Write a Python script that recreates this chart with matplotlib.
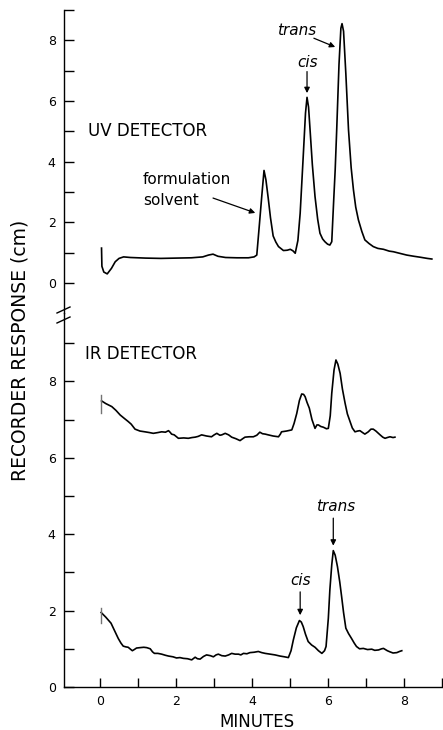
import numpy as np
import matplotlib
matplotlib.use('Agg')
import matplotlib.pyplot as plt
from matplotlib.lines import Line2D

# ---- data ------------------------------------------------------------------

# UV detector trace (upper panel)
uv_t = [0.04, 0.05, 0.10, 0.19, 0.30, 0.40, 0.50, 0.62, 0.80, 1.20, 1.60, 2.00,
        2.40, 2.70, 2.85, 2.97, 3.10, 3.30, 3.60, 3.90, 4.05, 4.12, 4.19, 4.25,
        4.31, 4.36, 4.42, 4.48, 4.55, 4.62, 4.69, 4.82, 4.92, 5.00, 5.07, 5.13,
        5.20, 5.26, 5.34, 5.40, 5.44, 5.48, 5.52, 5.58, 5.65, 5.72, 5.78, 5.85,
        5.91, 5.98, 6.04, 6.09, 6.14, 6.18, 6.22, 6.28, 6.33, 6.36, 6.40, 6.46,
        6.53, 6.60, 6.66, 6.72, 6.79, 6.88, 6.96, 7.07, 7.18, 7.30, 7.45, 7.60,
        7.71, 7.90, 8.06, 8.25, 8.41, 8.60, 8.72]
uv_r = [1.15, 0.55, 0.36, 0.30, 0.48, 0.70, 0.81, 0.86, 0.84, 0.82, 0.81, 0.82,
        0.83, 0.86, 0.92, 0.95, 0.88, 0.84, 0.83, 0.83, 0.86, 0.92, 1.95, 2.85,
        3.71, 3.40, 2.80, 2.15, 1.55, 1.35, 1.20, 1.07, 1.08, 1.11, 1.06, 0.98,
        1.40, 2.30, 4.17, 5.60, 6.12, 5.80, 5.05, 3.90, 2.85, 2.10, 1.64, 1.45,
        1.36, 1.28, 1.25, 1.36, 2.70, 3.73, 5.05, 7.20, 8.40, 8.55, 8.30, 6.90,
        5.05, 3.80, 3.07, 2.50, 2.08, 1.70, 1.42, 1.30, 1.20, 1.14, 1.11, 1.05,
        1.03, 0.97, 0.92, 0.88, 0.85, 0.81, 0.79]

# IR detector trace (lower panel, offset chart)
ir_t = [0.04, 0.15, 0.31, 0.42, 0.53, 0.64, 0.74, 0.82, 0.92, 1.05, 1.18, 1.30,
        1.40, 1.52, 1.62, 1.72, 1.80, 1.85, 1.88, 1.95, 2.06, 2.20, 2.32, 2.42,
        2.50, 2.58, 2.67, 2.80, 2.93, 3.00, 3.07, 3.15, 3.20, 3.29, 3.38, 3.46,
        3.57, 3.68, 3.75, 3.81, 3.92, 4.03, 4.12, 4.20, 4.27, 4.34, 4.42, 4.55,
        4.69, 4.74, 4.77, 4.90, 5.04, 5.10, 5.17, 5.24, 5.30, 5.35, 5.39, 5.44,
        5.50, 5.57, 5.65, 5.70, 5.74, 5.80, 5.87, 5.95, 6.00, 6.05, 6.09, 6.15,
        6.20, 6.25, 6.31, 6.37, 6.44, 6.50, 6.57, 6.63, 6.70, 6.77, 6.83, 6.90,
        6.96, 7.05, 7.12, 7.18, 7.25, 7.36, 7.43, 7.49, 7.55, 7.62, 7.70, 7.75]
ir_r = [7.49, 7.42, 7.34, 7.24, 7.12, 7.03, 6.95, 6.88, 6.75, 6.70, 6.68, 6.66,
        6.64, 6.66, 6.68, 6.67, 6.71, 6.66, 6.62, 6.60, 6.51, 6.52, 6.51, 6.53,
        6.54, 6.56, 6.60, 6.57, 6.55, 6.60, 6.64, 6.59, 6.60, 6.64, 6.60, 6.54,
        6.50, 6.45, 6.50, 6.54, 6.55, 6.55, 6.59, 6.67, 6.63, 6.62, 6.60, 6.57,
        6.55, 6.62, 6.68, 6.70, 6.73, 6.90, 7.16, 7.50, 7.67, 7.66, 7.60, 7.45,
        7.30, 7.00, 6.77, 6.86, 6.86, 6.82, 6.80, 6.76, 6.77, 7.10, 7.69, 8.30,
        8.56, 8.45, 8.21, 7.80, 7.43, 7.15, 6.95, 6.78, 6.68, 6.70, 6.71, 6.66,
        6.62, 6.68, 6.75, 6.75, 6.70, 6.60, 6.54, 6.51, 6.53, 6.55, 6.53, 6.54]

# second UV run (bottom trace, lower panel)
lo_t = [0.03, 0.15, 0.29, 0.38, 0.48, 0.55, 0.61, 0.68, 0.74, 0.80, 0.85, 0.90,
        0.96, 1.05, 1.15, 1.23, 1.32, 1.38, 1.43, 1.52, 1.62, 1.72, 1.80, 1.92,
        2.01, 2.10, 2.19, 2.30, 2.41, 2.50, 2.56, 2.63, 2.72, 2.80, 2.90, 2.98,
        3.05, 3.11, 3.20, 3.29, 3.38, 3.46, 3.55, 3.64, 3.70, 3.77, 3.86, 3.94,
        4.05, 4.16, 4.25, 4.34, 4.47, 4.60, 4.73, 4.85, 4.95, 5.02, 5.08, 5.16,
        5.24, 5.29, 5.34, 5.40, 5.47, 5.56, 5.65, 5.74, 5.83, 5.90, 5.94, 6.00,
        6.04, 6.09, 6.13, 6.18, 6.24, 6.30, 6.35, 6.40, 6.46, 6.53, 6.61, 6.68,
        6.74, 6.82, 6.92, 7.03, 7.14, 7.22, 7.32, 7.40, 7.45, 7.55, 7.62, 7.70,
        7.80, 7.87, 7.93]
lo_r = [1.95, 1.83, 1.67, 1.48, 1.27, 1.15, 1.07, 1.05, 1.04, 0.99, 0.95, 0.98,
        1.02, 1.03, 1.04, 1.03, 1.00, 0.92, 0.88, 0.88, 0.86, 0.83, 0.81, 0.79,
        0.76, 0.77, 0.75, 0.74, 0.71, 0.78, 0.74, 0.73, 0.80, 0.84, 0.82, 0.79,
        0.84, 0.86, 0.82, 0.81, 0.84, 0.88, 0.86, 0.86, 0.84, 0.88, 0.87, 0.90,
        0.91, 0.93, 0.90, 0.88, 0.86, 0.84, 0.81, 0.79, 0.77, 0.95, 1.23, 1.55,
        1.74, 1.70, 1.58, 1.38, 1.19, 1.10, 1.04, 0.95, 0.88, 0.95, 1.06, 1.80,
        2.54, 3.20, 3.57, 3.45, 3.15, 2.75, 2.36, 1.95, 1.54, 1.40, 1.27, 1.15,
        1.06, 1.00, 1.01, 0.98, 0.99, 0.96, 0.97, 1.00, 1.01, 0.95, 0.92, 0.89,
        0.90, 0.93, 0.95]

# pen start marks at injection
ir_mark = [7.64, 7.16]
lo_mark = [2.06, 1.67]

y_ticks = list(range(10))
y_labels = [str(v) if v % 2 == 0 else '' for v in y_ticks]
x_ticks = list(range(10))
x_labels = [str(v) if v % 2 == 0 else '' for v in x_ticks]

# -----------------------------------------------------------------------------

plt.rcParams['font.family'] = 'DejaVu Sans'

W, H = 443., 730.
fig = plt.figure(figsize=(4.43, 7.3), dpi=100)

ax_lo = fig.add_axes([64/W, 43/H, 378.5/W, 374/H])
ax_up = fig.add_axes([64/W, 417/H, 378.5/W, 303/H])

lw = 1.2
ax_up.plot(uv_t, uv_r, color='k', lw=lw)
ax_lo.plot(ir_t, ir_r, color='k', lw=lw)
ax_lo.plot(lo_t, lo_r, color='k', lw=lw)
ax_lo.plot([0.03, 0.03], ir_mark, color='0.45', lw=1.0)
ax_lo.plot([0.03, 0.03], lo_mark, color='0.45', lw=1.0)

for ax in (ax_up, ax_lo):
    ax.set_xlim(-0.946, 9.0)
    ax.spines['top'].set_visible(False)
    ax.spines['right'].set_visible(False)
    ax.spines['left'].set_linewidth(1.0)
    ax.set_yticks(y_ticks, labels=y_labels)
    ax.tick_params(axis='y', direction='in', length=7, width=1.0,
                   labelsize=9, pad=6)

ax_up.set_ylim(-0.99, 9.0)
ax_up.spines['bottom'].set_visible(False)
ax_up.set_xticks([])

ax_lo.set_ylim(0, 9.79)
ax_lo.spines['bottom'].set_linewidth(1.0)
ax_lo.set_xticks(x_ticks, labels=x_labels)
ax_lo.tick_params(axis='x', direction='in', length=6.5, width=1.0,
                  labelsize=9, pad=6)

# axis break marks
for yc in (310, 320):
    fig.add_artist(Line2D([57/W, 70/W], [1 - (yc + 3)/H, 1 - (yc - 3)/H],
                          color='k', lw=1.0, transform=fig.transFigure))

# labels
ax_up.text(-0.32, 5.0, 'UV DETECTOR', fontsize=12, va='center', ha='left')
ax_lo.text(-0.39, 8.72, 'IR DETECTOR', fontsize=12, va='center', ha='left')

arw = dict(arrowstyle='-|>', color='k', lw=0.9, mutation_scale=8,
           shrinkA=0, shrinkB=0)
ax_up.text(1.13, 3.07, 'formulation\nsolvent', fontsize=11, ha='left',
           va='center', linespacing=1.45)
ax_up.annotate('', xy=(4.08, 2.31), xytext=(2.97, 2.8), arrowprops=arw)
ax_up.annotate('', xy=(5.44, 6.26), xytext=(5.44, 6.97), arrowprops=arw)
ax_up.text(5.45, 7.28, 'cis', fontsize=11, style='italic', ha='center', va='center')
ax_up.annotate('', xy=(6.18, 7.78), xytext=(5.62, 8.07), arrowprops=arw)
ax_up.text(5.17, 8.32, 'trans', fontsize=11, style='italic', ha='center', va='center')

ax_lo.annotate('', xy=(5.26, 1.88), xytext=(5.26, 2.49), arrowprops=arw)
ax_lo.text(5.26, 2.8, 'cis', fontsize=11, style='italic', ha='center', va='center')
ax_lo.annotate('', xy=(6.13, 3.70), xytext=(6.13, 4.42), arrowprops=arw)
ax_lo.text(6.18, 4.72, 'trans', fontsize=11, style='italic', ha='center', va='center')

fig.text(20/W, 1 - 350/H, 'RECORDER RESPONSE (cm)', rotation=90, fontsize=13.5,
         ha='center', va='center')
fig.text(257/W, 1 - 722/H, 'MINUTES', fontsize=12, ha='center', va='center')

fig.savefig('out.png', dpi=100)
plt.close(fig)
